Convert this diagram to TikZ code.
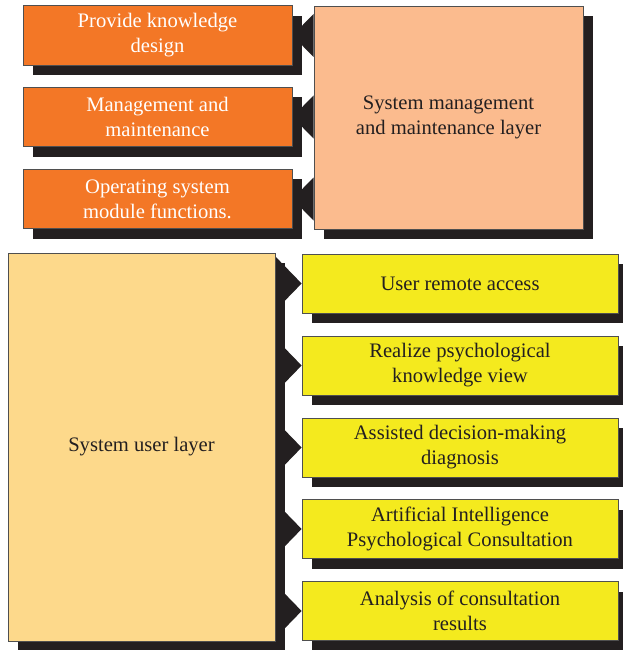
\documentclass[tikz,border=0pt]{standalone}
\usepackage{fontspec}
\setmainfont{Liberation Serif}
\usetikzlibrary{calc,shadows,backgrounds}
\definecolor{shadowc}{HTML}{231F20}
\definecolor{orangec}{HTML}{F37726}
\definecolor{peachc}{HTML}{FBBB8E}
\definecolor{userc}{HTML}{FDD98B}
\definecolor{yellowc}{HTML}{F4EA1E}
\definecolor{edgec}{HTML}{4F4F4F}
\begin{document}
\begin{tikzpicture}[x=1pt,y=-1pt,
  box/.style={draw=edgec,line width=0.8pt,align=center,inner sep=0pt,
    font=\fontsize{20.6}{25}\selectfont,
    drop shadow={shadow xshift=10pt,shadow yshift=-10pt,fill=shadowc,opacity=1}},
  obox/.style={box,fill=orangec,text=white,minimum width=269pt,minimum height=59.5pt},
  pbox/.style={box,fill=peachc,text=shadowc,minimum width=269pt,minimum height=223pt},
  ubox/.style={box,fill=userc,text=shadowc,minimum width=267pt,minimum height=388pt},
  ybox/.style={box,fill=yellowc,text=shadowc,minimum width=316pt,minimum height=59pt},
  arrowfill/.style={fill=shadowc}]
\useasboundingbox (0,0) rectangle (623,650);
\clip (0,0) rectangle (623,650);
% boxes
\node[pbox] (sys) at (448.5,117.5) {System management\\and maintenance layer};
\node[obox] (o1) at (157.5,35.5) {Provide knowledge\\design};
\node[obox] (o2) at (157.5,117) {Management and\\maintenance};
\node[obox] (o3) at (157.5,199) {Operating system\\module functions.};
\node[ubox] (user) at (141.5,447) {System user layer};
\node[ybox] (y1) at (460,283.5) {User remote access};
\node[ybox] (y2) at (460,365.5) {Realize psychological\\knowledge view};
\node[ybox] (y3) at (460,447.5) {Assisted decision-making\\diagnosis};
\node[ybox] (y4) at (460,529) {Artificial Intelligence\\Psychological Consultation};
\node[ybox] (y5) at (460,611) {Analysis of consultation\\results};
% connectors (arrowheads behind the boxes)
\begin{scope}[on background layer]
\fill[white] (0,0) rectangle (623,650);
\foreach \o in {o1,o2,o3}{
  \fill[arrowfill] (\o.east) -- ($(sys.west |- \o.east)+(0,-21.5)$) -- ($(sys.west |- \o.east)+(0,21.5)$) -- cycle;
}
\foreach \y in {y1,y2,y3,y4,y5}{
  \fill[arrowfill] (\y.west) -- ($(user.east |- \y.west)+(0,-27)$) -- ($(user.east |- \y.west)+(0,27)$) -- cycle;
}
\end{scope}
\end{tikzpicture}
\end{document}
